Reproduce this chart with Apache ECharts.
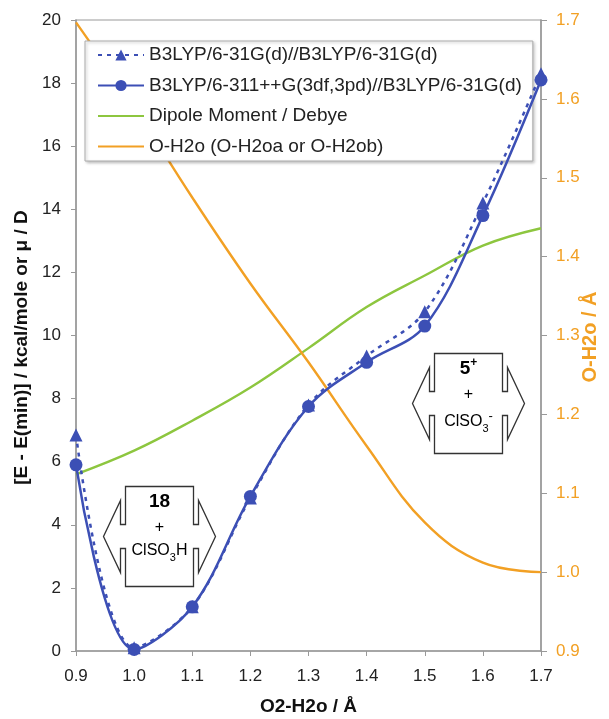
<!DOCTYPE html>
<html>
<head>
<meta charset="utf-8">
<script src="https://cdn.jsdelivr.net/npm/echarts@6/dist/echarts.min.js"></script>
<style>
  html, body { margin: 0; padding: 0; background: #fff; }
  #chart { width: 609px; height: 719px; }
</style>
</head>
<body>
<div id="chart"></div>
<script>
// O2-H2o distances (Å)
const distances = [0.9, 1.0, 1.1, 1.2, 1.3, 1.4, 1.5, 1.6, 1.7]

// energies relative to minimum, kcal/mole
const energySmallBasis = [6.85, 0.1, 1.4, 4.85, 7.8, 9.35, 10.75, 14.2, 18.3]
const energyLargeBasis = [5.9, 0.05, 1.4, 4.9, 7.75, 9.15, 10.3, 13.8, 18.1]
// dipole moment, Debye
const dipoleMoment = [5.6, 6.35, 7.3, 8.35, 9.6, 10.9, 11.9, 12.85, 13.4]
// O-H2o bond length, Å (right axis)
const ohDistance = [1.697, 1.59, 1.475, 1.366, 1.266, 1.16, 1.063, 1.012, 1.0]

const seriesNames = [
  'B3LYP/6-31G(d)//B3LYP/6-31G(d)',
  'B3LYP/6-311++G(3df,3pd)//B3LYP/6-31G(d)',
  'Dipole Moment / Debye',
  'O-H2o (O-H2oa or O-H2ob)'
]
const rightAxisName = 'O-H2o / Å'

const BLUE = '#3C4FB5'
const GREEN = '#8DC63F'
const ORANGE = '#F2A024'
const FONT = 'Liberation Sans, Arial, sans-serif'

const pairs = (ys) => distances.map((x, i) => [x, ys[i]])

// double-arrow box outline round a label
function arrowBox(cx, cy) {
  const A = 34, H = 50, B = 39, T = 56, Ah = 36, N = 12
  return {
    type: 'polygon',
    shape: {
      points: [
        [cx - A, cy - H], [cx + A, cy - H], [cx + A, cy - N], [cx + B, cy - N],
        [cx + B, cy - Ah], [cx + T, cy], [cx + B, cy + Ah], [cx + B, cy + N],
        [cx + A, cy + N], [cx + A, cy + H], [cx - A, cy + H], [cx - A, cy + N],
        [cx - B, cy + N], [cx - B, cy + Ah], [cx - T, cy], [cx - B, cy - Ah],
        [cx - B, cy - N], [cx - A, cy - N]
      ]
    },
    style: { fill: 'none', stroke: '#333', lineWidth: 1.3 },
    z: 10
  }
}

const rich = {
  b: { fontFamily: FONT, fontSize: 19, fontWeight: 'bold', color: '#111', lineHeight: 24, verticalAlign: 'middle' },
  n: { fontFamily: FONT, fontSize: 16, color: '#222', lineHeight: 24, verticalAlign: 'middle' },
  sub: { fontFamily: FONT, fontSize: 11, color: '#222', lineHeight: 24, verticalAlign: 'bottom' },
  sup: { fontFamily: FONT, fontSize: 12, fontWeight: 'bold', color: '#111', lineHeight: 24, verticalAlign: 'top' },
  supn: { fontFamily: FONT, fontSize: 13, color: '#222', lineHeight: 24, verticalAlign: 'top' }
}

function label(text, x, y) {
  return {
    type: 'text',
    x: x,
    y: y,
    z: 11,
    style: { text: text, rich: rich, align: 'center', verticalAlign: 'middle' }
  }
}

const chart = echarts.init(document.getElementById('chart'), null, { renderer: 'canvas' })

const option = {
  backgroundColor: '#fff',
  animation: false,
  textStyle: { fontFamily: FONT },
  grid: {
    left: 76, right: 68, top: 20, bottom: 68,
    outerBoundsMode: 'none',
    containLabel: false,
    show: true, borderColor: '#999', borderWidth: 1.2
  },
  legend: {
    left: 85,
    top: 41,
    orient: 'vertical',
    data: [
      { name: seriesNames[0] },
      { name: seriesNames[1] },
      { name: seriesNames[2], itemStyle: { opacity: 0 } },
      { name: seriesNames[3], itemStyle: { opacity: 0 } }
    ],
    itemWidth: 46,
    itemHeight: 14,
    itemGap: 11.5,
    padding: [4.5, 11, 5, 12],
    backgroundColor: '#fff',
    borderColor: '#aaa',
    borderWidth: 1,
    borderRadius: 0,
    shadowColor: 'rgba(0,0,0,0.25)',
    shadowBlur: 3,
    shadowOffsetX: 1.5,
    shadowOffsetY: 1.5,
    textStyle: { fontFamily: FONT, fontSize: 19, color: '#222' }
  },
  xAxis: {
    type: 'value',
    min: 0.9,
    max: 1.7,
    interval: 0.1,
    name: 'O2-H2o / Å',
    nameLocation: 'middle',
    nameGap: 46,
    nameTextStyle: { fontFamily: FONT, fontSize: 19, fontWeight: 'bold', color: '#111' },
    axisLine: { lineStyle: { color: '#999', width: 1.5 } },
    axisTick: { show: true, length: 5, lineStyle: { color: '#999' } },
    axisLabel: { fontSize: 17, color: '#222', margin: 17, formatter: (v) => v.toFixed(1) },
    splitLine: { show: false }
  },
  yAxis: [
    {
      type: 'value',
      min: 0,
      max: 20,
      interval: 2,
      name: '[E - E(min)] / kcal/mole or μ / D',
      nameLocation: 'middle',
      nameGap: 45,
      nameTextStyle: {
        fontFamily: FONT, fontSize: 19, fontWeight: 'bold', color: '#111',
        padding: [0, 24, 0, 0]
      },
      axisLine: { show: true, lineStyle: { color: '#999', width: 1.5 } },
      axisTick: { show: true, length: 5, lineStyle: { color: '#999' } },
      axisLabel: { fontSize: 17, color: '#222', margin: 15 },
      splitLine: { show: false }
    },
    {
      type: 'value',
      position: 'right',
      min: 0.9,
      max: 1.7,
      interval: 0.1,
      axisLine: { show: true, lineStyle: { color: '#999', width: 1.5 } },
      axisTick: { show: true, length: 6, lineStyle: { color: '#999' } },
      axisLabel: { fontSize: 17, color: ORANGE, margin: 15, formatter: (v) => v.toFixed(1) },
      splitLine: { show: false }
    }
  ],
  series: [
    {
      name: seriesNames[0],
      type: 'line',
      data: pairs(energySmallBasis),
      smooth: 0.35,
      clip: false,
      symbol: 'triangle',
      symbolSize: 13,
      color: BLUE,
      lineStyle: { color: BLUE, width: 2.5, type: [4, 5] },
      itemStyle: { color: BLUE },
      z: 4
    },
    {
      name: seriesNames[1],
      type: 'line',
      data: pairs(energyLargeBasis),
      smooth: 0.35,
      clip: false,
      symbol: 'circle',
      symbolSize: 13,
      color: BLUE,
      lineStyle: { color: BLUE, width: 2.5 },
      itemStyle: { color: BLUE },
      z: 4
    },
    {
      name: seriesNames[2],
      type: 'line',
      data: pairs(dipoleMoment),
      smooth: 0.4,
      symbol: 'none',
      color: GREEN,
      lineStyle: { color: GREEN, width: 2.4 },
      z: 3
    },
    {
      name: seriesNames[3],
      type: 'line',
      yAxisIndex: 1,
      data: pairs(ohDistance),
      smooth: 0.4,
      symbol: 'none',
      color: ORANGE,
      lineStyle: { color: ORANGE, width: 2.4 },
      z: 3
    }
  ],
  graphic: [
    {
      type: 'text',
      x: 590,
      y: 337,
      rotation: Math.PI / 2,
      style: {
        text: rightAxisName,
        fontFamily: FONT, fontSize: 20, fontWeight: 'bold', fill: ORANGE,
        align: 'center', verticalAlign: 'middle'
      }
    },
    arrowBox(159.5, 536.5),
    label('{b|18}', 159.5, 502),
    label('{n|+}', 159.5, 528),
    label('{n|ClSO}{sub|3}{n|H}', 159.5, 551),
    arrowBox(468.5, 403.5),
    label('{b|5}{sup|+}', 468.5, 369),
    label('{n|+}', 468.5, 395),
    label('{n|ClSO}{sub|3}{supn|-}', 468.5, 422)
  ]
}

chart.setOption(option)
</script>
</body>
</html>
